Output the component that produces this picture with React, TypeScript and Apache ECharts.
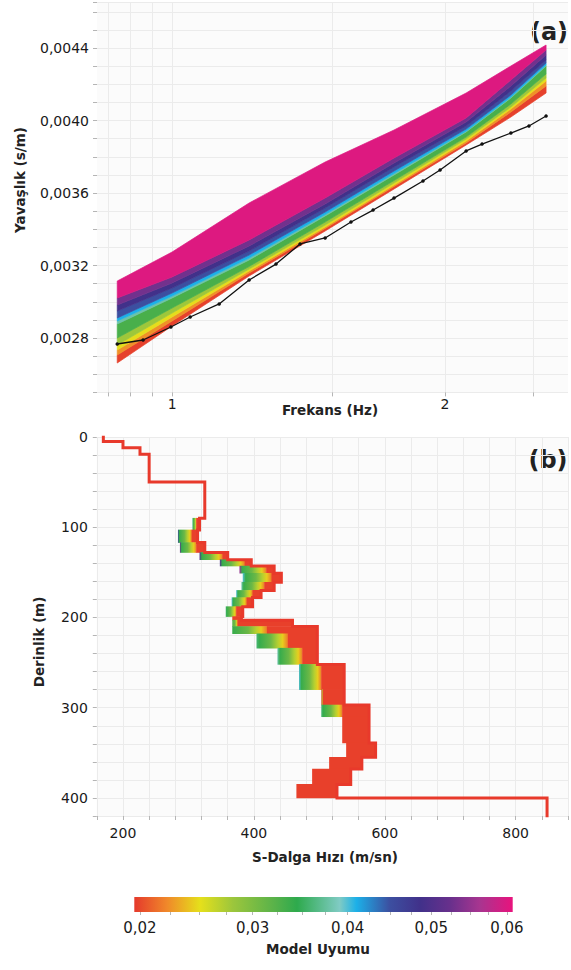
import React, { useEffect, useRef } from 'react';
import * as echarts from 'echarts';

// ---------- (a) dispersion curves ----------
const obsFreq = [0.87, 0.929, 0.997, 1.047, 1.127, 1.216, 1.302, 1.384, 1.475, 1.575, 1.666, 1.757, 1.891, 1.975, 2.11, 2.197, 2.364, 2.475, 2.585];
const obsSlowness = [0.002767, 0.002789, 0.002861, 0.002916, 0.002988, 0.00312, 0.003208, 0.003319, 0.003352, 0.00344, 0.003506, 0.003572, 0.003666, 0.003727, 0.003832, 0.00387, 0.003931, 0.00397, 0.004025];

const bandFreq = [0.87, 1.0, 1.216, 1.475, 1.757, 2.11, 2.364, 2.585];
// model curves bounding each misfit band, from best (bottom) to worst (top)
const edge0 = [0.0026621, 0.0028662, 0.0031421, 0.0033904, 0.0036221, 0.0038648, 0.0040193, 0.0041517];
const edge1 = [0.0027062, 0.0028938, 0.0031586, 0.0034042, 0.0036359, 0.0038759, 0.0040469, 0.0041904];
const edge2 = [0.0027338, 0.0029159, 0.0031697, 0.0034124, 0.0036441, 0.0038869, 0.0040634, 0.0042179];
const edge3 = [0.0027614, 0.0029379, 0.0031807, 0.0034235, 0.0036552, 0.0038979, 0.0040745, 0.0042345];
const edge4 = [0.0028, 0.0029655, 0.0031945, 0.00344, 0.003669, 0.003909, 0.004091, 0.0042566];
const edge5 = [0.0028772, 0.0030207, 0.0032303, 0.0034731, 0.0036993, 0.0039366, 0.0041241, 0.0043007];
const edge6 = [0.0028938, 0.0030317, 0.0032414, 0.0034814, 0.0037076, 0.0039421, 0.0041297, 0.0043062];
const edge7 = [0.0029104, 0.0030483, 0.0032579, 0.0034952, 0.0037214, 0.0039531, 0.0041407, 0.0043172];
const edge8 = [0.002949, 0.0030759, 0.00328, 0.0035173, 0.0037435, 0.0039697, 0.0041628, 0.0043338];
const edge9 = [0.0029821, 0.0031035, 0.0033076, 0.0035393, 0.0037655, 0.0039917, 0.0041904, 0.0043614];
const edge10 = [0.0030207, 0.0031366, 0.0033407, 0.0035724, 0.0037931, 0.0040138, 0.0042235, 0.004389];
const edge11 = [0.0031145, 0.0032745, 0.0035448, 0.003771, 0.0039476, 0.0041517, 0.0043007, 0.0044166];
const bandEdges = [edge0, edge1, edge2, edge3, edge4, edge5, edge6, edge7, edge8, edge9, edge10, edge11];
const bandMisfit = [0.0198, 0.0225, 0.025, 0.028, 0.033, 0.038, 0.041, 0.0449, 0.0486, 0.053, 0.06];

const freqTickHz = [0.85, 0.9, 0.95, 1, 1.5, 2, 2.5];
const freqLabelHz = [1, 2];

// ---------- (b) Vs profiles ----------
const bestTop = [0, 5, 12, 19, 50, 90, 103, 117, 128, 136, 143, 151, 161, 170, 178, 188, 199, 203, 210, 252, 297, 339, 355, 368, 385, 400];
const bestVs = [170, 200, 226, 240, 325, 317, 314, 325, 360, 396, 431, 442, 431, 411, 398, 383, 381, 459, 497, 538, 576, 586, 565, 548, 527, 848];
const profileEnd = 420;

const bandTop = [90, 103, 117, 128, 136, 143, 151, 161, 170, 178, 188, 199, 203, 210, 218, 234, 252, 280, 297, 310, 339, 355, 368, 385];
const bandBottom = [103, 117, 128, 136, 143, 151, 161, 170, 178, 188, 199, 203, 210, 218, 234, 252, 280, 297, 310, 339, 355, 368, 385, 400];
const bandVLeft = [306, 284, 287, 317, 348, 378, 383, 381, 373, 366, 357, 367, 367, 367, 404, 436, 469, 503, 503, 535, 541, 515, 489, 465];
const bandVRed = [312, 305, 312, 352, 386, 419, 427, 416, 398, 389, 373, 367, 375, 420, 452, 474, 503, 505, 535, 535, 541, 515, 489, 465];
const bandVRight = [317, 314, 325, 360, 396, 431, 442, 431, 411, 398, 383, 381, 459, 497, 497, 497, 538, 538, 576, 576, 586, 565, 548, 527];
const bandLeftMisfit = [0.038, 0.046, 0.052, 0.05, 0.05, 0.055, 0.04, 0.038, 0.04, 0.04, 0.036, 0.02, 0.032, 0.034, 0.036, 0.038, 0.04, 0.02, 0.036, 0.02, 0.02, 0.02, 0.02, 0.02];

// ---------- colour bar ----------
const cbLabelMisfit = [0.02, 0.03, 0.04, 0.05, 0.06];
const cbTickMisfit = [0.02, 0.0225, 0.025, 0.0275, 0.03, 0.0325, 0.035, 0.0375, 0.04, 0.0425, 0.045, 0.0475, 0.05, 0.0525, 0.055, 0.0575, 0.06];
const cbRange = [0.01955, 0.0608];
const paletteMisfit = [0.0196, 0.0222, 0.0251, 0.0281, 0.0322, 0.0345, 0.0391, 0.041, 0.0449, 0.0486, 0.0524, 0.0563, 0.0608];
const paletteColors = ['#e53b2c', '#f0882a', '#e5e01b', '#9cc63c', '#58b24a', '#2eaa4d', '#80cbc4', '#1cb0e8', '#3c4fa0', '#41318a', '#68308c', '#a83590', '#e8137d'];

const FONT = '"DejaVu Sans", sans-serif';

function hexToRgb(h: string) {
  const n = parseInt(h.slice(1), 16);
  return [(n >> 16) & 255, (n >> 8) & 255, n & 255];
}
function misfitColor(m: number): string {
  const last = paletteMisfit.length - 1;
  if (m <= paletteMisfit[0]) return paletteColors[0];
  if (m >= paletteMisfit[last]) return paletteColors[last];
  let i = 0;
  while (i < last && paletteMisfit[i + 1] < m) i++;
  const t = (m - paletteMisfit[i]) / (paletteMisfit[i + 1] - paletteMisfit[i]);
  const a = hexToRgb(paletteColors[i]);
  const b = hexToRgb(paletteColors[i + 1]);
  const c = a.map((v, k) => Math.round(v + (b[k] - v) * t));
  return `rgb(${c[0]},${c[1]},${c[2]})`;
}

export default function App() {
  const ref = useRef<HTMLDivElement>(null);
  useEffect(() => {
    document.body.style.margin = '0';
    const chart = echarts.init(ref.current!, null, { renderer: 'svg' });
    const lg = (v: number) => Math.log10(v);
    const axisLabelStyle = { color: '#1a1a1a', fontSize: 14, fontFamily: FONT };
    const gridLine = { show: true, lineStyle: { color: '#ebebeb', width: 1 } };
    const tickStyle = { show: true, length: 4, lineStyle: { color: '#b5b5b5' } };
    const noLine = { show: false, onZero: false };

    const series: any[] = [];
    // (a) misfit band: polygons between successive model curves
    series.push({
      type: 'custom', xAxisIndex: 0, yAxisIndex: 0, silent: true, z: 2,
      data: bandMisfit.map((m, k) => [lg(bandFreq[0]), bandEdges[k][0], m]),
      renderItem: (params: any, api: any) => {
        const k = params.dataIndex;
        const col = misfitColor(bandMisfit[k]);
        const upper = bandFreq.map((f, i) => api.coord([lg(f), bandEdges[k + 1][i]]));
        const lower = bandFreq.map((f, i) => api.coord([lg(f), bandEdges[k][i]])).reverse();
        return {
          type: 'polygon',
          shape: { points: upper.concat(lower) },
          style: { fill: col, stroke: col, lineWidth: 0.7 },
        };
      },
    });
    series.push({
      type: 'line', xAxisIndex: 0, yAxisIndex: 0,
      data: obsFreq.map((f, i) => [lg(f), obsSlowness[i]]),
      symbol: 'circle', symbolSize: 3.5, itemStyle: { color: '#111' },
      lineStyle: { color: '#111', width: 1.3 }, z: 5,
    });

    // (b) model band
    series.push({
      type: 'custom', xAxisIndex: 1, yAxisIndex: 1, silent: true, z: 2,
      dimensions: ['vl', 'top', 'vred', 'vright', 'bottom', 'misfit'],
      encode: { x: [0, 2, 3], y: [1, 4] },
      data: bandTop.map((t, i) => [bandVLeft[i], t, bandVRed[i], bandVRight[i], bandBottom[i], bandLeftMisfit[i]]),
      renderItem: (params: any, api: any) => {
        const vl = api.value(0), top = api.value(1), vr = api.value(2), vrt = api.value(3), bot = api.value(4), lm = api.value(5);
        const a = api.coord([vl, top]);
        const b = api.coord([vr, bot]);
        const d = api.coord([vrt, bot]);
        const children: any[] = [];
        if (b[0] - a[0] > 0.5) {
          const stops: any[] = [{ offset: 0, color: misfitColor(lm) }];
          if (lm > 0.035) stops.push({ offset: 0.1, color: misfitColor(0.034) });
          stops.push({ offset: 0.45, color: misfitColor(0.031) });
          stops.push({ offset: 0.68, color: misfitColor(0.027) });
          stops.push({ offset: 0.82, color: misfitColor(0.0245) });
          stops.push({ offset: 1, color: misfitColor(0.0215) });
          children.push({
            type: 'rect',
            shape: { x: a[0], y: a[1] - 0.3, width: b[0] - a[0] + 0.5, height: b[1] - a[1] + 0.6 },
            style: { fill: new echarts.graphic.LinearGradient(0, 0, 1, 0, stops) },
          });
        }
        children.push({
          type: 'rect',
          shape: { x: b[0], y: a[1] - 0.3, width: d[0] - b[0], height: b[1] - a[1] + 0.6 },
          style: { fill: '#e8402b' },
        });
        return { type: 'group', children };
      },
    });
    const bestLine: number[][] = [];
    bestTop.forEach((t, i) => {
      const bt = i < bestTop.length - 1 ? bestTop[i + 1] : profileEnd;
      bestLine.push([bestVs[i], t]);
      bestLine.push([bestVs[i], bt]);
    });
    series.push({
      type: 'line', xAxisIndex: 1, yAxisIndex: 1, data: bestLine, symbol: 'none',
      lineStyle: { color: '#e8392b', width: 3, join: 'miter', cap: 'square' }, z: 4, silent: true,
    });

    // colour bar
    const cbMin = Math.sqrt(cbRange[0]);
    const cbMax = Math.sqrt(cbRange[1]);
    series.push({
      type: 'custom', xAxisIndex: 2, yAxisIndex: 2, silent: true,
      data: [[(cbMin + cbMax) / 2, 0.5]],
      renderItem: (params: any, api: any) => {
        const p0 = api.coord([cbMin, 1]);
        const p1 = api.coord([cbMax, 0]);
        const stops = paletteMisfit.map((m, i) => ({
          offset: Math.min(1, Math.max(0, (Math.sqrt(m) - cbMin) / (cbMax - cbMin))),
          color: paletteColors[i],
        }));
        return {
          type: 'rect',
          shape: { x: p0[0], y: p0[1], width: p1[0] - p0[0], height: p1[1] - p0[1] },
          style: { fill: new echarts.graphic.LinearGradient(0, 0, 1, 0, stops) },
        };
      },
    });

    const text = (t: string, x: number, y: number, size: number, rot = 0) => ({
      type: 'text', x, y, rotation: rot, silent: true,
      style: {
        text: t, x: 0, y: 0, fill: '#222', font: `bold ${size}px ${FONT}`,
        align: 'center', verticalAlign: 'middle', textAlign: 'center', textVerticalAlign: 'middle',
      },
    });

    const option: any = {
      animation: false,
      backgroundColor: '#ffffff',
      grid: [
        { left: 97, top: 2.7, width: 471, height: 389.7, show: true, backgroundColor: '#fbfbfb', borderWidth: 0 },
        { left: 96.8, top: 437, width: 471.6, height: 379, show: true, backgroundColor: '#fbfbfb', borderWidth: 0 },
        { left: 134.3, top: 897, width: 378.4, height: 15, show: false },
      ],
      xAxis: [
        {
          type: 'value', gridIndex: 0, min: lg(0.8264), max: lg(2.733),
          axisLine: noLine,
          axisTick: { ...tickStyle, customValues: freqTickHz.map(lg) },
          axisLabel: { ...axisLabelStyle, margin: 5, customValues: freqLabelHz.map(lg), formatter: (v: number) => String(Math.round(Math.pow(10, v))) },
          splitLine: gridLine,
        },
        {
          type: 'value', gridIndex: 1, min: 160, max: 880, interval: 40,
          axisLine: noLine, axisTick: tickStyle,
          axisLabel: { ...axisLabelStyle, margin: 10, formatter: (v: number) => (Math.round(v) % 200 === 0 ? String(Math.round(v)) : '') },
          splitLine: gridLine,
        },
        {
          type: 'value', gridIndex: 2, min: cbMin, max: cbMax,
          axisLine: noLine,
          axisTick: { show: true, length: 3, lineStyle: { color: '#b5b5b5' }, customValues: cbTickMisfit.map(Math.sqrt) },
          axisLabel: { ...axisLabelStyle, fontSize: 15, margin: 8, customValues: cbLabelMisfit.map(Math.sqrt), formatter: (v: number) => (v * v).toFixed(2).replace('.', ',') },
          splitLine: { show: false },
        },
      ],
      yAxis: [
        {
          type: 'value', gridIndex: 0, min: 0.0025, max: 0.00465, interval: 0.0001,
          axisLine: noLine, axisTick: tickStyle,
          axisLabel: {
            ...axisLabelStyle, margin: 8,
            formatter: (v: number) => {
              const k = Math.round(v * 1e4);
              return Math.abs(v * 1e4 - k) < 1e-6 && k % 4 === 0 ? v.toFixed(4).replace('.', ',') : '';
            },
          },
          splitLine: gridLine,
        },
        {
          type: 'value', gridIndex: 1, min: 0, max: 420, interval: 20, inverse: true,
          axisLine: noLine, axisTick: tickStyle,
          axisLabel: { ...axisLabelStyle, margin: 9, formatter: (v: number) => (Math.round(v) % 100 === 0 ? String(Math.round(v)) : '') },
          splitLine: gridLine,
        },
        { type: 'value', gridIndex: 2, min: 0, max: 1, show: false },
      ],
      series,
      graphic: [
        text('(a)', 549, 32, 24),
        text('(b)', 548, 460, 24),
        text('Frekans (Hz)', 330, 410, 13.5),
        text('Yavaşlık (s/m)', 20, 180, 13.5, Math.PI / 2),
        text('S-Dalga Hızı (m/sn)', 325, 857, 13.5),
        text('Derinlik (m)', 39, 642, 13.5, Math.PI / 2),
        text('Model Uyumu', 318, 949, 13.5),
      ],
    };
    chart.setOption(option);
    return () => chart.dispose();
  }, []);
  return <div ref={ref} style={{ position: 'absolute', left: 0, top: 0, width: 571, height: 970, background: '#fff' }} />;
}
